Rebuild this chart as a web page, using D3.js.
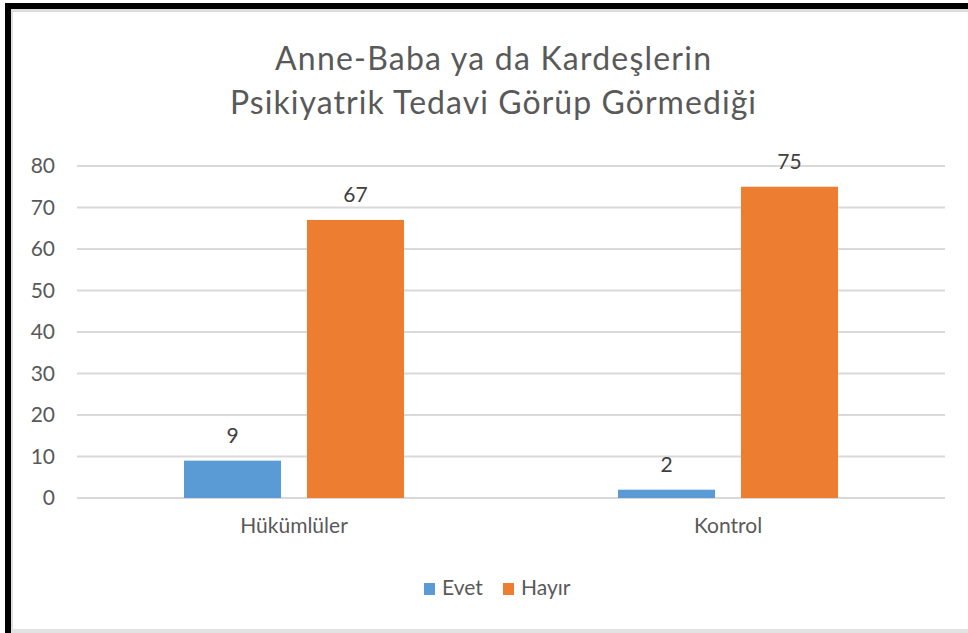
<!DOCTYPE html>
<html>
<head>
<meta charset="utf-8">
<script src="https://cdn.jsdelivr.net/npm/d3@7"></script>
<style>
  html, body { margin: 0; padding: 0; background: #fff; }
  svg { display: block; }
  text { font-family: Lato, "Open Sans", sans-serif; }
</style>
</head>
<body>
<script>
const titleLines = ["Anne-Baba ya da Kardeşlerin", "Psikiyatrik Tedavi Görüp Görmediği"];
const categories = ["Hükümlüler", "Kontrol"];
const seriesNames = ["Evet", "Hayır"];
const evetValues = [9, 2];
const hayirValues = [67, 75];
const yTicks = [0, 10, 20, 30, 40, 50, 60, 70, 80];
const colors = ["#5b9bd5", "#ed7d31"];

const W = 968, H = 633;
const svg = d3.select("body").append("svg").attr("width", W).attr("height", H);

// frame
svg.append("rect").attr("x", 0).attr("y", 0).attr("width", W).attr("height", H).attr("fill", "#fff");
svg.append("rect").attr("x", 11).attr("y", 9).attr("width", W - 11).attr("height", 3).attr("fill", "#dedede");
svg.append("rect").attr("x", 11).attr("y", 9).attr("width", 2).attr("height", H - 9).attr("fill", "#dedede");
svg.append("rect").attr("x", 11).attr("y", 629).attr("width", W - 11).attr("height", 4).attr("fill", "#e2e2e2");
svg.append("rect").attr("x", 5).attr("y", 3).attr("width", W - 5).attr("height", 6).attr("fill", "#000");
svg.append("rect").attr("x", 5).attr("y", 3).attr("width", 6).attr("height", H - 3).attr("fill", "#000");

// title
const titleWidths = [436, 526];
svg.append("g").selectAll("text").data(titleLines).join("text")
  .attr("x", 493).attr("y", (d, i) => 70 + i * 44)
  .attr("text-anchor", "middle")
  .attr("font-size", 32).attr("fill", "#595959")
  .attr("textLength", (d, i) => titleWidths[i]).attr("lengthAdjust", "spacing")
  .text(d => d);

const plotLeft = 77, plotRight = 945;
const y = d3.scaleLinear().domain([0, 80]).range([498, 166]);
const x0 = d3.scaleBand().domain(categories).range([plotLeft, plotRight]).paddingInner(0).paddingOuter(0);
const x1 = d3.scaleBand().domain(seriesNames).range([0, x0.bandwidth()]).paddingInner(0.211).paddingOuter(0.87);

// gridlines
svg.append("g").selectAll("line").data(yTicks).join("line")
  .attr("x1", plotLeft).attr("x2", plotRight)
  .attr("y1", d => y(d)).attr("y2", d => y(d))
  .attr("stroke", "#d9d9d9").attr("stroke-width", 2);

// y axis labels
const yAxis = d3.axisLeft(y).tickValues(yTicks).tickSize(0).tickPadding(0);
const yg = svg.append("g").attr("transform", "translate(55,0)").call(yAxis);
yg.select(".domain").remove();
yg.selectAll("text").attr("font-size", 21).attr("fill", "#595959").attr("font-family", "Lato, 'Open Sans', sans-serif");

// x axis labels
const xAxis = d3.axisBottom(x0).tickSize(0).tickPadding(0);
const xg = svg.append("g").attr("transform", "translate(0,517)").call(xAxis);
xg.select(".domain").remove();
xg.selectAll("text").attr("font-size", 21).attr("fill", "#595959").attr("font-family", "Lato, 'Open Sans', sans-serif").attr("dy", "0.75em");

// bars
const rows = categories.map((c, i) => ({ cat: c, vals: [evetValues[i], hayirValues[i]] }));
const groups = svg.append("g").selectAll("g").data(rows).join("g")
  .attr("transform", d => `translate(${x0(d.cat)},0)`);
groups.selectAll("rect").data(d => d.vals.map((v, j) => ({ s: seriesNames[j], v, j }))).join("rect")
  .attr("x", d => x1(d.s)).attr("width", x1.bandwidth())
  .attr("y", d => y(d.v)).attr("height", d => y(0) - y(d.v))
  .attr("fill", d => colors[d.j]);
groups.selectAll("text.val").data(d => d.vals.map((v, j) => ({ s: seriesNames[j], v, j }))).join("text")
  .attr("class", "val")
  .attr("x", d => x1(d.s) + x1.bandwidth() / 2)
  .attr("y", d => y(d.v) - 18)
  .attr("text-anchor", "middle").attr("font-size", 21).attr("fill", "#404040")
  .text(d => d.v);

// legend
const legendX = [424, 503];
const lg = svg.append("g").selectAll("g").data(seriesNames).join("g")
  .attr("transform", (d, i) => `translate(${legendX[i]},0)`);
lg.append("rect").attr("x", 0).attr("y", 583).attr("width", 11).attr("height", 12).attr("fill", (d, i) => colors[i]);
lg.append("text").attr("x", 18).attr("y", 595).attr("font-size", 21).attr("fill", "#595959").text(d => d);
</script>
</body>
</html>
